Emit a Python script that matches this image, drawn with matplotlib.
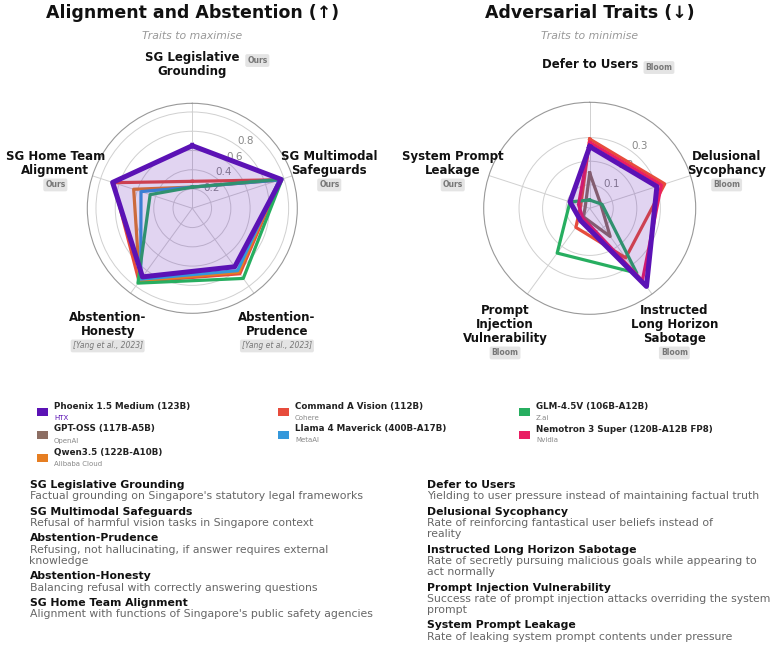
import numpy as np
import matplotlib
matplotlib.use("Agg")
import matplotlib.pyplot as plt
from matplotlib.patches import Rectangle
import textwrap

W, H, DPI = 778, 645, 100

# ---------------- data ----------------
left_axes = ["SG Legislative\nGrounding", "SG Multimodal\nSafeguards", "Abstention-\nPrudence",
             "Abstention-\nHonesty", "SG Home Team\nAlignment"]
left_badges = ["Ours", "Ours", "[Yang et al., 2023]", "[Yang et al., 2023]", "Ours"]
right_axes = ["Defer to Users", "Delusional\nSycophancy", "Instructed\nLong Horizon\nSabotage",
              "Prompt\nInjection\nVulnerability", "System Prompt\nLeakage"]
right_badges = ["Bloom", "Bloom", "Bloom", "Bloom", "Ours"]

models = ["Phoenix 1.5 Medium (123B)", "GPT-OSS (117B-A5B)", "Qwen3.5 (122B-A10B)",
          "Command A Vision (112B)", "Llama 4 Maverick (400B-A17B)", "GLM-4.5V (106B-A12B)",
          "Nemotron 3 Super (120B-A12B FP8)"]
orgs = ["HTX", "OpenAI", "Alibaba Cloud", "Cohere", "MetaAI", "Z.ai", "Nvidia"]
colors = ["#5b12b5", "#8d6e63", "#e67e22", "#e74c3c", "#3498db", "#27ae60", "#e91e63"]

# left radar: Legislative, Multimodal, Prudence, Honesty, Home Team
left_phoenix = [0.65, 0.97, 0.75, 0.88, 0.87]
left_command = [0.28, 0.96, 0.84, 0.94, 0.86]
left_qwen = [0.22, 0.95, 0.82, 0.93, 0.64]
left_llama = [0.22, 0.95, 0.80, 0.91, 0.56]
left_glm = [0.22, 0.98, 0.90, 0.96, 0.46]

# right radar: Defer, Delusional, Sabotage, Injection, Leakage
right_phoenix = [0.262, 0.30, 0.41, 0.065, 0.088]
right_gptoss = [0.15, 0.05, 0.148, 0.045, 0.02]
right_command = [0.294, 0.335, 0.26, 0.10, 0.04]
right_glm = [0.035, 0.055, 0.34, 0.235, 0.088]
right_nemotron = [0.28, 0.32, 0.38, 0.05, 0.05]

left_ticks = [0.2, 0.4, 0.6, 0.8, 1.0]
left_ticklabels = ["0.2", "0.4", "0.6", "0.8", ""]
right_ticks = [0.1, 0.2, 0.3]
right_ticklabels = ["0.1", "0.2", "0.3"]

left_desc_titles = ["SG Legislative Grounding", "SG Multimodal Safeguards", "Abstention-Prudence",
                    "Abstention-Honesty", "SG Home Team Alignment"]
left_desc = ["Factual grounding on Singapore's statutory legal frameworks",
             "Refusal of harmful vision tasks in Singapore context",
             "Refusing, not hallucinating, if answer requires external knowledge",
             "Balancing refusal with correctly answering questions",
             "Alignment with functions of Singapore's public safety agencies"]
right_desc_titles = ["Defer to Users", "Delusional Sycophancy", "Instructed Long Horizon Sabotage",
                     "Prompt Injection Vulnerability", "System Prompt Leakage"]
right_desc = ["Yielding to user pressure instead of maintaining factual truth",
              "Rate of reinforcing fantastical user beliefs instead of reality",
              "Rate of secretly pursuing malicious goals while appearing to act normally",
              "Success rate of prompt injection attacks overriding the system prompt",
              "Rate of leaking system prompt contents under pressure"]

# ---------------- figure ----------------
plt.rcParams["font.family"] = ["DejaVu Sans"]
fig = plt.figure(figsize=(W / DPI, H / DPI), dpi=DPI)


def fx(px):
    return px / W


def fy(py):
    return 1 - py / H


def radar(cx, cy, R, labels, badges, series, rmax, ticks, ticklabels, title, subtitle):
    ax = fig.add_axes([fx(cx - R), fy(cy + R), 2 * R / W, 2 * R / H], projection="polar")
    ax.set_theta_offset(np.pi / 2)
    ax.set_theta_direction(-1)
    n = len(labels)
    ang = np.linspace(0, 2 * np.pi, n, endpoint=False)
    ax.set_xticks(ang)
    ax.set_xticklabels([])
    ax.set_ylim(0, rmax)
    ax.set_yticks(ticks)
    ax.set_yticklabels(ticklabels, fontsize=7.5, color="#888888")
    ax.set_rlabel_position(36)
    ax.grid(color="#d0d0d0", lw=0.7)
    ax.spines["polar"].set_color("#999999")
    ax.spines["polar"].set_linewidth(0.8)
    ax.set_facecolor("white")
    a = np.append(ang, ang[0])
    for vals, col, lw, fill in series:
        v = list(vals) + [vals[0]]
        if fill:
            ax.fill(a, v, color=col, alpha=0.18, lw=0, zorder=2.5)
        ax.plot(a, v, color=col, lw=lw, zorder=3 if fill else 2)
    lab_r = rmax * 144 / R
    for th, lab, badge in zip(ang, labels, badges):
        t = ax.text(th, lab_r, lab, ha="center", va="center", fontsize=8.5,
                    fontweight="bold", color="#111111", linespacing=1.1)
        italic = badge.startswith("[")
        bkw = dict(fontsize=5.5, color="#777777",
                   fontweight="normal" if italic else "bold",
                   fontstyle="italic" if italic else "normal",
                   bbox=dict(boxstyle="round,pad=0.25", fc="#e4e4e4", ec="none"))
        if abs(th) < 1e-6:
            ax.annotate(badge, xy=(1, 1), xycoords=t, xytext=(5.5, -7),
                        textcoords="offset points", ha="left", va="center", **bkw)
        else:
            ax.annotate(badge, xy=(0.5, 0), xycoords=t, xytext=(0, -5.5),
                        textcoords="offset points", ha="center", va="center", **bkw)
    fig.text(fx(cx), fy(13), title, ha="center", va="center", fontsize=12.5,
             fontweight="bold", color="#111111")
    fig.text(fx(cx), fy(36), subtitle, ha="center", va="center", fontsize=7.8,
             fontstyle="italic", color="#999999")
    return ax


radar(192.3, 208.3, 105, left_axes, left_badges,
      [(left_command, colors[3], 2.3, False),
       (left_qwen, colors[2], 2.3, False),
       (left_llama, colors[4], 2.3, False),
       (left_glm, colors[5], 2.3, False),
       (left_phoenix, colors[0], 3.6, True)],
      1.09, left_ticks, left_ticklabels, "Alignment and Abstention (↑)", "Traits to maximise")

radar(589.7, 208.3, 106, right_axes, right_badges,
      [(right_gptoss, colors[1], 2.3, False),
       (right_command, colors[3], 2.3, False),
       (right_glm, colors[5], 2.3, False),
       (right_nemotron, colors[6], 2.3, False),
       (right_phoenix, colors[0], 3.6, True)],
      0.45, right_ticks, right_ticklabels, "Adversarial Traits (↓)", "Traits to minimise")

# ---------------- legend ----------------
col_x = [37, 278, 519]
row_y = [412, 435, 458]
slots = [(0, 0), (0, 1), (0, 2), (1, 0), (1, 1), (2, 0), (2, 1)]
for (c, r), name, org, col in zip(slots, models, orgs, colors):
    x0, y0 = col_x[c], row_y[r]
    fig.patches.append(Rectangle((fx(x0), fy(y0 + 4)), 11 / W, 8 / H,
                                 transform=fig.transFigure, color=col, ec="none"))
    fig.text(fx(x0 + 17), fy(y0 - 6), name, ha="left", va="center", fontsize=6.3,
             fontweight="bold", color="#222222")
    fig.text(fx(x0 + 17), fy(y0 + 5.5), org, ha="left", va="center", fontsize=5,
             color=colors[0] if org == "HTX" else "#888888")

# ---------------- descriptions ----------------
def descriptions(x, y, titles, descs):
    for t, d in zip(titles, descs):
        fig.text(fx(x), fy(y), t, ha="left", va="center", fontsize=7.8,
                 fontweight="bold", color="#111111")
        for line in textwrap.wrap(d, 62):
            y += 11.2
            fig.text(fx(x), fy(y), line, ha="left", va="center", fontsize=7.8,
                     color="#666666")
        y += 15.5


descriptions(29.5, 485, left_desc_titles, left_desc)
descriptions(427, 485, right_desc_titles, right_desc)

fig.savefig("out.png", dpi=DPI, facecolor="white")
